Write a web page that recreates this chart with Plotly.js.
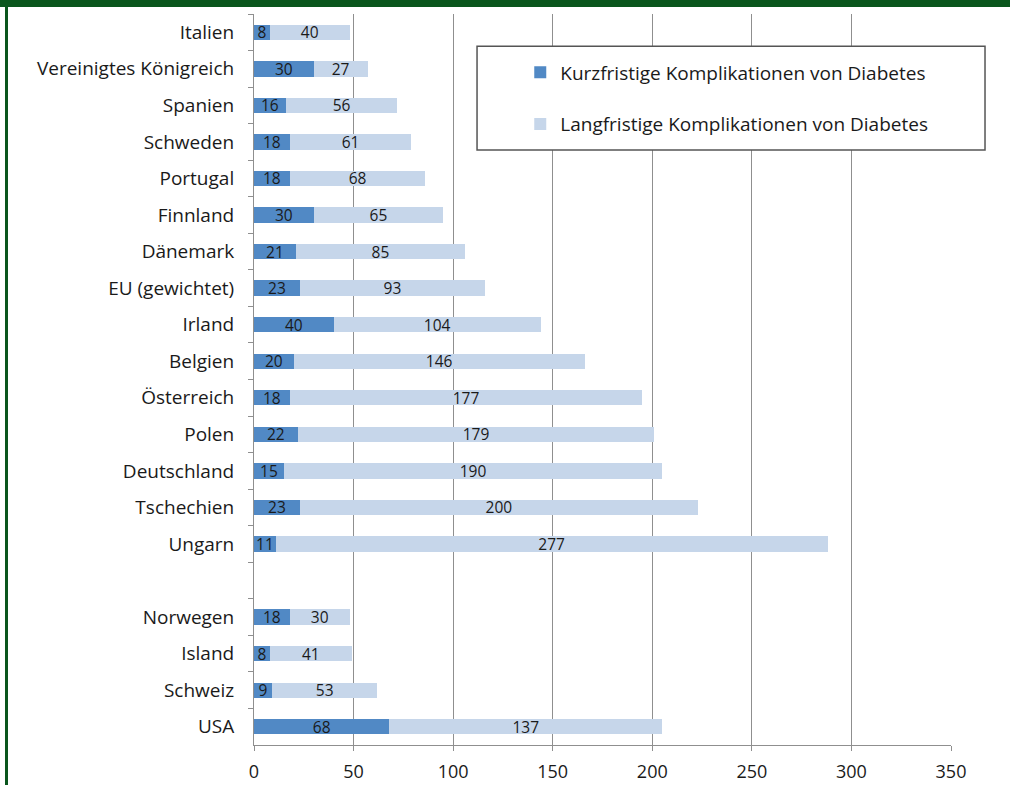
<!DOCTYPE html>
<html>
<head>
<meta charset="utf-8">
<script src="https://cdn.plot.ly/plotly-3.0.1.min.js"></script>
<style>
  html, body { margin: 0; padding: 0; background: #ffffff; }
  #wrap { position: relative; width: 1010px; height: 785px; overflow: hidden; background: #fff; }
  #chart { position: absolute; left: 0; top: 0; width: 1010px; height: 785px; }
  #topband { position: absolute; left: 0; top: 0; width: 1010px; height: 7px; background: #0a561d; z-index: 5; }
  #leftline { position: absolute; left: 5px; top: 0; width: 3px; height: 785px; background: #0a561d; z-index: 5; }
</style>
</head>
<body>
<div id="wrap">
  <div id="chart"></div>
  <div id="topband"></div>
  <div id="leftline"></div>
</div>
<script>
const categories = [
  "Italien", "Vereinigtes Königreich", "Spanien", "Schweden", "Portugal",
  "Finnland", "Dänemark", "EU (gewichtet)", "Irland", "Belgien",
  "Österreich", "Polen", "Deutschland", "Tschechien", "Ungarn",
  " ",
  "Norwegen", "Island", "Schweiz", "USA"
];
const kurzfristig = [8, 30, 16, 18, 18, 30, 21, 23, 40, 20, 18, 22, 15, 23, 11, null, 18, 8, 9, 68];
const langfristig = [40, 27, 56, 61, 68, 65, 85, 93, 104, 146, 177, 179, 190, 200, 277, null, 30, 41, 53, 137];
const seriesNames = ["Kurzfristige Komplikationen von Diabetes", "Langfristige Komplikationen von Diabetes"];
const xTicks = [0, 50, 100, 150, 200, 250, 300, 350];

const FONT = "Open Sans, Lato, sans-serif";
const textFont = { family: FONT, size: 15.5, color: "#1a1a1a" };

const traces = [
  {
    type: "bar", orientation: "h", name: seriesNames[0], legendgroup: "a",
    y: categories, x: kurzfristig,
    marker: { color: "#5189c5", line: { width: 0 } },
    text: kurzfristig.map(v => v == null ? "" : String(v)),
    textposition: "inside", insidetextanchor: "middle", textangle: 0,
    constraintext: "none", insidetextfont: textFont,
    hoverinfo: "x+y"
  },
  {
    type: "bar", orientation: "h", name: seriesNames[1], legendgroup: "b",
    y: categories, x: langfristig,
    marker: { color: "#c6d6ea", line: { width: 0 } },
    text: langfristig.map(v => v == null ? "" : String(v)),
    textposition: "inside", insidetextanchor: "middle", textangle: 0,
    constraintext: "none", insidetextfont: textFont,
    hoverinfo: "x+y"
  }
];

const layout = {
  width: 1010, height: 785,
  margin: { l: 254, r: 59, t: 14, b: 40, pad: 0 },
  paper_bgcolor: "#ffffff", plot_bgcolor: "#ffffff",
  barmode: "stack", bargap: 0.58,
  font: { family: FONT, size: 19, color: "#1a1a1a" },
  showlegend: true,
  legend: {
    x: 0.382, y: 0.946, xanchor: "left", yanchor: "top",
    bgcolor: "rgba(0,0,0,0)", borderwidth: 0,
    traceorder: "grouped", tracegroupgap: 24,
    font: { family: FONT, size: 19, color: "#1a1a1a" }
  },
  xaxis: {
    range: [0, 350], tickvals: xTicks, ticktext: xTicks.map(String),
    showgrid: true, gridcolor: "#8f8f8f", gridwidth: 1,
    zeroline: false, showline: true, linecolor: "#8f8f8f", linewidth: 1,
    ticks: "outside", ticklen: 5, tickcolor: "#8f8f8f", tickwidth: 1,
    ticklabelstandoff: 5,
    tickfont: { family: FONT, size: 18, color: "#1a1a1a" },
    fixedrange: true
  },
  yaxis: {
    type: "category", categoryorder: "array", categoryarray: categories,
    autorange: "reversed",
    showgrid: false, zeroline: false, showline: true, linecolor: "#8f8f8f", linewidth: 1,
    ticks: "outside", tickson: "boundaries", ticklen: 5, tickcolor: "#8f8f8f", tickwidth: 1,
    ticklabelstandoff: 15,
    tickfont: { family: FONT, size: 19, color: "#1a1a1a" },
    fixedrange: true
  },
  shapes: [
    {
      type: "rect", xref: "paper", yref: "paper", layer: "above",
      x0: 0.32, x1: 1.0488, y0: 0.814, y1: 0.956,
      fillcolor: "#ffffff", line: { color: "#555555", width: 1.5 }
    }
  ]
};

Plotly.newPlot("chart", traces, layout, { displayModeBar: false, staticPlot: true });
</script>
</body>
</html>
